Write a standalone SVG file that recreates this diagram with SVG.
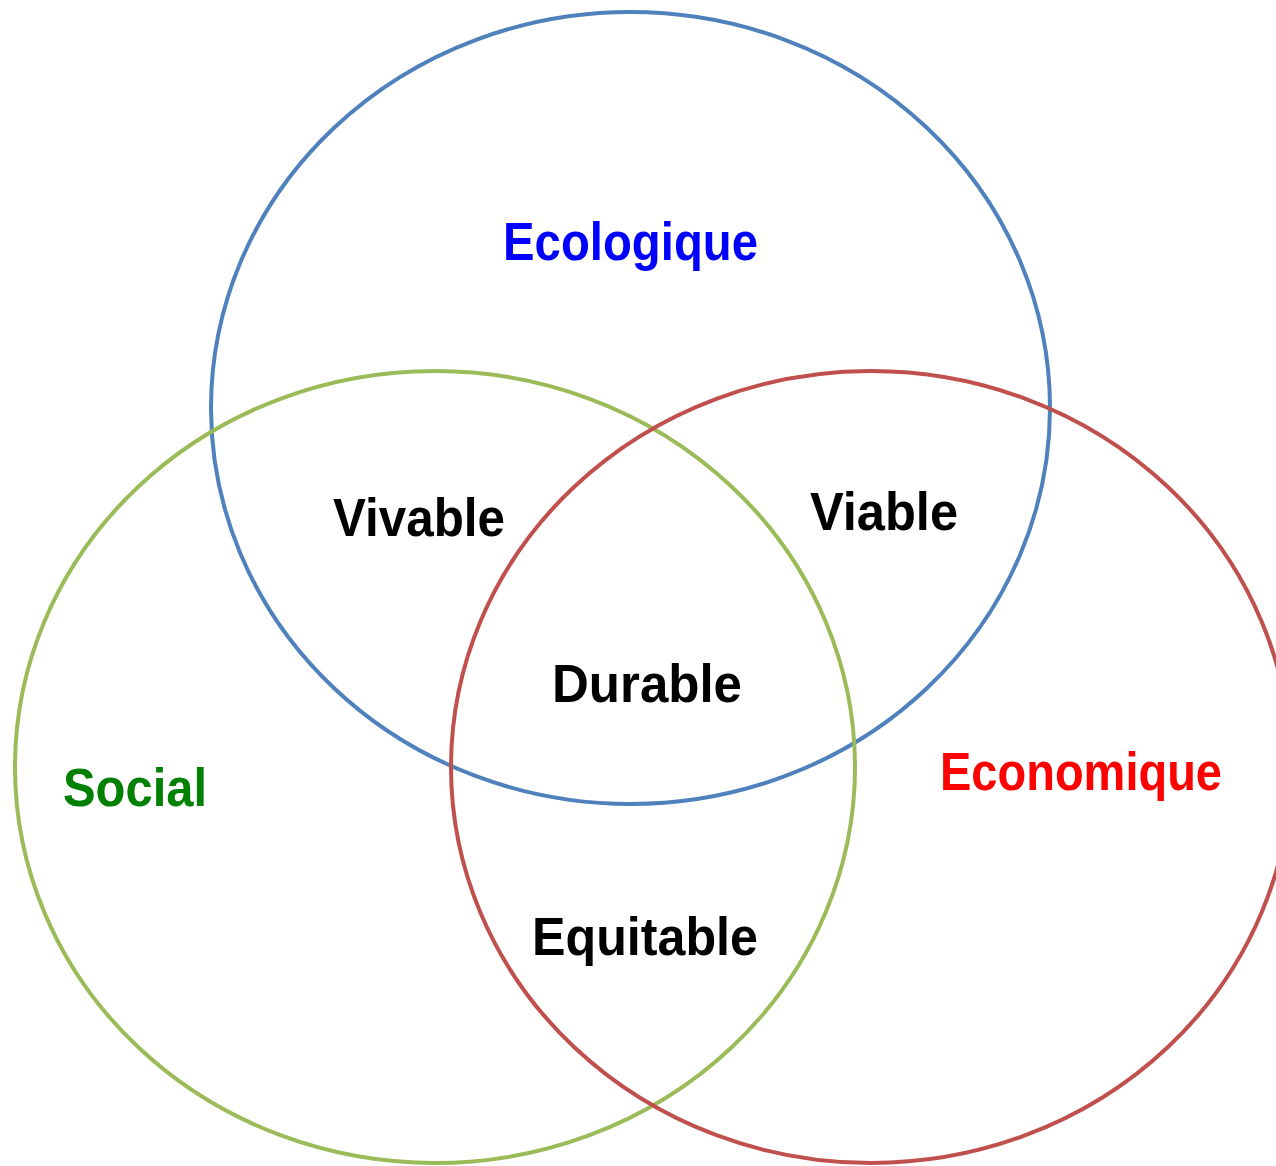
<svg xmlns="http://www.w3.org/2000/svg" width="1276" height="1166" viewBox="0 0 1276 1166">
<style>
.ring{fill:none;stroke-width:4}
.lbl{font-family:"Liberation Sans",Arial,sans-serif;font-weight:bold;font-size:54px}
</style>
<rect width="1276" height="1166" fill="#fff"/>
<g id="connectors"></g>
<g id="ecologique">
<ellipse class="ring" cx="630.5" cy="408" rx="419.5" ry="396" stroke="#4F81BD"/>
<text class="lbl" x="503" y="260" fill="#0000FF" textLength="255" lengthAdjust="spacingAndGlyphs">Ecologique</text>
</g>
<g id="social">
<ellipse class="ring" cx="435" cy="767" rx="420" ry="396" stroke="#9BBB59"/>
<text class="lbl" x="63" y="806" fill="#008000" textLength="144" lengthAdjust="spacingAndGlyphs">Social</text>
</g>
<g id="economique">
<ellipse class="ring" cx="871" cy="767" rx="420" ry="396" stroke="#C0504D"/>
<text class="lbl" x="940" y="790" fill="#FF0000" textLength="282" lengthAdjust="spacingAndGlyphs">Economique</text>
</g>
<g id="vivable"><text class="lbl" x="333" y="536" fill="#000" textLength="172" lengthAdjust="spacingAndGlyphs">Vivable</text></g>
<g id="viable"><text class="lbl" x="810" y="530" fill="#000" textLength="148" lengthAdjust="spacingAndGlyphs">Viable</text></g>
<g id="durable"><text class="lbl" x="552" y="702" fill="#000" textLength="190" lengthAdjust="spacingAndGlyphs">Durable</text></g>
<g id="equitable"><text class="lbl" x="532" y="955" fill="#000" textLength="226" lengthAdjust="spacingAndGlyphs">Equitable</text></g>
</svg>
